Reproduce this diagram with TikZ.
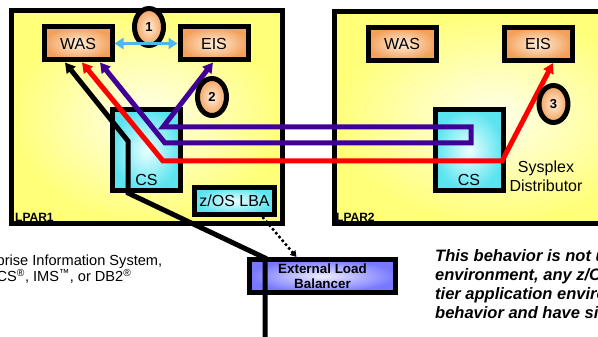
\documentclass[tikz,border=0pt]{standalone}
\usepackage{fontspec}
\setmainfont{Liberation Sans}
\usetikzlibrary{arrows.meta,shapes.geometric}

\definecolor{lparyellow}{RGB}{255,255,120}
\definecolor{lparlight}{RGB}{255,255,236}
\definecolor{apporange}{RGB}{243,160,90}
\definecolor{applight}{RGB}{255,238,218}
\definecolor{cscyan}{RGB}{90,228,240}
\definecolor{cslight}{RGB}{235,255,255}
\definecolor{lbblue}{RGB}{120,120,255}
\definecolor{lblight}{RGB}{238,238,255}
\definecolor{flowpurple}{RGB}{64,0,150}
\definecolor{linkblue}{RGB}{77,184,240}

\begin{document}
\begin{tikzpicture}[
    x=1pt, y=-1pt,
    panel/.style={draw, line width=5pt, inner sep=0pt},
    lpar/.style={panel, inner color=lparlight, outer color=lparyellow, minimum width=271pt, minimum height=212pt},
    app/.style={panel, inner color=applight, outer color=apporange, minimum width=68pt, minimum height=33pt, font=\fontsize{16}{18}\selectfont},
    csbox/.style={panel, inner color=cslight, outer color=cscyan, minimum width=68pt, minimum height=81pt,
        label={[anchor=south, inner sep=7pt, font=\fontsize{16}{18}\selectfont]south:CS}},
    lba/.style={panel, inner color=cslight, outer color=cscyan, minimum width=80pt, minimum height=27pt, font=\fontsize{16}{18}\selectfont},
    balancer/.style={panel, inner color=lblight, outer color=lbblue, minimum width=146pt, minimum height=33pt, align=center, font=\bfseries\fontsize{13.4}{15}\selectfont},
    badge/.style={panel, ellipse, inner color=applight, outer color=apporange, minimum width=29pt, minimum height=37pt, font=\bfseries\fontsize{13}{13}\selectfont},
    tag/.style={inner sep=0pt, font=\bfseries\fontsize{12}{12}\selectfont},
    note/.style={inner sep=0pt, align=left, font=\fontsize{14.6}{16}\selectfont},
    flow/.style={line width=5pt, {Triangle[length=10pt,width=11pt]}-{Triangle[length=10pt,width=11pt]}},
    feedflow/.style={line width=5pt, -{Triangle[length=10pt,width=11pt]}},
    link/.style={draw=linkblue, line width=3pt, {Triangle[length=9pt,width=11pt]}-{Triangle[length=9pt,width=11pt]}},
    hint/.style={line width=2.5pt, dash pattern=on 2.5pt off 2.5pt, -{Triangle[length=6pt,width=7pt]}}
]
\useasboundingbox (0,0) rectangle (598,337);
\node[lpar] (lpar1) at (146.5,117) {};
\node[lpar, minimum width=320pt] (lpar2) at (494,117.5) {};
\node[tag, anchor=base west] (lpar1name) at (15,221) {LPAR1};
\node[tag, anchor=base west] (lpar2name) at (336,221) {LPAR2};

\node[csbox] (cs1) at (146.5,150) {};
\node[csbox] (cs2) at (469,150) {};
\node[lba] (zlba) at (234.5,201) {z/OS LBA};
\node[balancer] (elb) at (322.5,276) {External Load\\Balancer};

\node[app] (was1) at (78,43.5) {WAS};
\node[app] (eis1) at (214,43.5) {EIS};
\node[app] (was2) at (402,44) {WAS};
\node[app] (eis2) at (538,44) {EIS};

\node[align=center, font=\fontsize{16}{18.5}\selectfont] (sd) at (546,176.5) {Sysplex\\Distributor};
\node[note, anchor=west] (eisnote) at (-3.5,269.3) {prise Information System,\\CS\textsuperscript{®}, IMS\textsuperscript{™}, or DB2\textsuperscript{®}};
\node[note, anchor=west, font=\bfseries\itshape\fontsize{16.5}{19.2}\selectfont] (scopenote) at (435,284)
    {This behavior is not u\\environment, any z/O\\tier application enviro\\behavior and have si};

\coordinate (feed) at (265,345);
\coordinate (inlet) at (265,258);
\coordinate (csfoot) at (128,193);
\coordinate (cskink) at (128,141);
\coordinate (redl) at (163,161);
\coordinate (redr) at (502,161);
\coordinate (pl1) at (165,143);
\coordinate (pr1) at (471,143);
\coordinate (pr2) at (471,127);
\coordinate (pl2) at (163,127);

\draw[feedflow] (feed) -- (inlet) -- (csfoot) -- (cskink) -- ([xshift=-13pt]was1.south);
\draw[flow, red] ([xshift=4pt]was1.south) -- (redl) -- (redr) -- ([xshift=15pt]eis2.south);
\draw[flow, flowpurple] ([xshift=22pt]was1.south) -- (pl1) -- (pr1) -- (pr2) -- (pl2) -- ([xshift=-1pt]eis1.south);

\node[badge] (b1) at (149,27) {1};
\node[badge] (b2) at (212,97) {2};
\node[badge] (b3) at (553.5,104) {3};

\draw[link] (was1) -- (eis1);
\draw[hint] ([xshift=28pt]zlba.south) -- ([xshift=-26pt]elb.north);
\end{tikzpicture}
\end{document}
